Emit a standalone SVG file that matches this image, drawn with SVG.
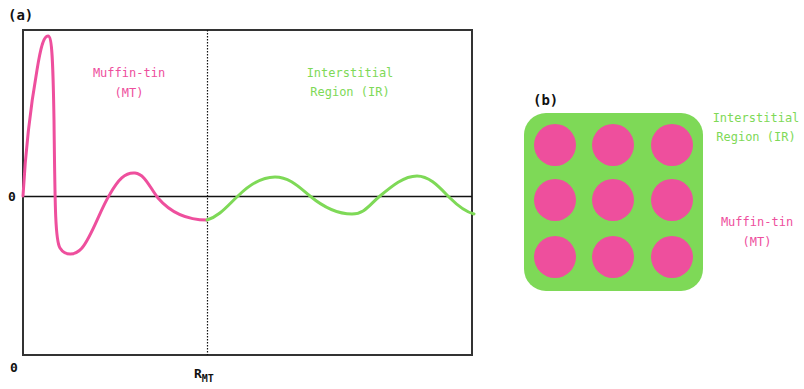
<svg xmlns="http://www.w3.org/2000/svg" width="804" height="389" viewBox="0 0 804 389">
<style>
text{font-family:"DejaVu Sans Mono","Liberation Mono",monospace;font-size:12px}
.pk{fill:#EE4F9D}
.gr{fill:#7ED957}
.lab{font-weight:bold;font-size:14px;fill:#111}
.ax{font-weight:bold;fill:#111;font-size:13px}
</style>
<rect width="804" height="389" fill="#fff"/>
<g id="panel-a">
<rect x="23" y="30" width="449" height="325" fill="none" stroke="#333" stroke-width="2"/>
<line x1="23" y1="196.5" x2="472" y2="196.5" stroke="#111" stroke-width="1.5"/>
<line x1="207.5" y1="30" x2="207.5" y2="355" stroke="#111" stroke-width="1.2" stroke-dasharray="1.5,1.5"/>
<text class="lab" x="8" y="20">(a)</text>
<text class="ax" x="8" y="201">0</text>
<text class="ax" x="10" y="372">0</text>
<text class="ax" x="194" y="378">R<tspan font-size="10" dy="4">MT</tspan></text>
<text class="pk" x="129" y="77" text-anchor="middle">Muffin-tin</text>
<text class="pk" x="129" y="97" text-anchor="middle">(MT)</text>
<text class="gr" x="350" y="77" text-anchor="middle">Interstitial</text>
<text class="gr" x="350" y="96" text-anchor="middle">Region (IR)</text>
<path d="M23,196 C25,160 30,110 37,70 C41,45 44,36 48,36 C52,36 53,60 54,120 C55,200 55,240 60,248 C65,256 75,256 82,248 C92,236 100,210 110,194 C118,180 125,172 135,173 C145,174 150,188 158,198 C170,212 185,220 207,220" fill="none" stroke="#EE4F9D" stroke-width="3" stroke-linecap="round"/>
<path d="M207,220 C220,216 228,205 238,196 C250,184 262,177 275,177 C290,177 300,188 310,196 C322,206 335,214 352,214 C365,214 370,204 380,196 C392,186 404,176 417,176 C430,176 440,188 450,198 C460,208 466,212 474,214" fill="none" stroke="#7ED957" stroke-width="3" stroke-linecap="round"/>
</g>
<g id="panel-b">
<text class="lab" x="533" y="105">(b)</text>
<rect x="524" y="113" width="179" height="178" rx="22" fill="#7ED957"/>
<g fill="#EE4F9D">
<circle cx="555" cy="145" r="21"/>
<circle cx="613" cy="145" r="21"/>
<circle cx="672" cy="145" r="21"/>
<circle cx="555" cy="200" r="21"/>
<circle cx="613" cy="200" r="21"/>
<circle cx="672" cy="200" r="21"/>
<circle cx="555" cy="257" r="21"/>
<circle cx="613" cy="257" r="21"/>
<circle cx="672" cy="257" r="21"/>
</g>
<text class="gr" x="756" y="122" text-anchor="middle">Interstitial</text>
<text class="gr" x="756" y="141" text-anchor="middle">Region (IR)</text>
<text class="pk" x="757" y="226" text-anchor="middle">Muffin-tin</text>
<text class="pk" x="757" y="246" text-anchor="middle">(MT)</text>
</g>
</svg>
